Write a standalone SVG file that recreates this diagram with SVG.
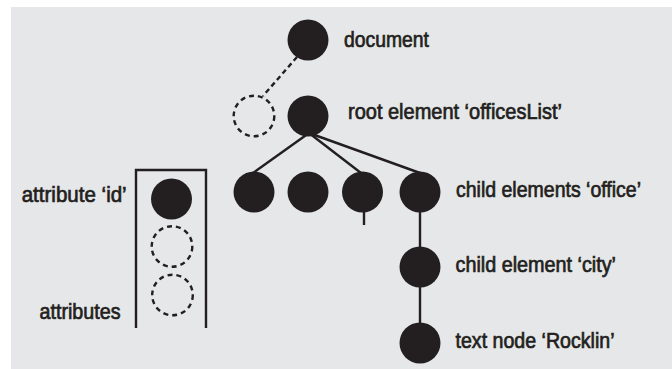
<svg xmlns="http://www.w3.org/2000/svg" width="672" height="369" viewBox="0 0 672 369">
<style>
.bg{fill:#e6e7e8}
.n{fill:#231f20}
.d{fill:none;stroke:#231f20;stroke-width:2.4;stroke-dasharray:5 4}
.e{stroke:#231f20;stroke-width:2.4;fill:none}
.ed{stroke:#231f20;stroke-width:2.4;stroke-dasharray:5 3.5;fill:none}
.t{font-family:"Liberation Sans",Arial,sans-serif;font-size:22px;fill:#231f20;stroke:#231f20;stroke-width:0.7}
</style>
<rect class="bg" x="11" y="7" width="661" height="362"/>
<g id="connectors">
<line class="ed" x1="297" y1="57" x2="263" y2="96"/>
<line class="e" x1="309" y1="133" x2="253" y2="173"/>
<line class="e" x1="309" y1="133" x2="361" y2="173"/>
<line class="e" x1="309" y1="133" x2="420" y2="173"/>
<line class="e" x1="364" y1="210" x2="364" y2="225"/>
<line class="e" x1="420" y1="192" x2="420" y2="343"/>
</g>
<g id="document">
<circle class="n" cx="308" cy="40" r="20.5"/>
<text class="t" x="344" y="47" textLength="85" lengthAdjust="spacingAndGlyphs">document</text>
</g>
<g id="dashed-node">
<circle class="d" cx="254" cy="116" r="20.3"/>
</g>
<g id="root">
<circle class="n" cx="308" cy="116" r="20.5"/>
<text class="t" x="348" y="119" textLength="214" lengthAdjust="spacingAndGlyphs">root element ‘officesList’</text>
</g>
<g id="child1"><circle class="n" cx="254" cy="192" r="20.5"/></g>
<g id="child2"><circle class="n" cx="308" cy="192" r="20.5"/></g>
<g id="child3"><circle class="n" cx="362.5" cy="192" r="20.5"/></g>
<g id="child4">
<circle class="n" cx="420" cy="192" r="20.5"/>
<text class="t" x="456" y="197" textLength="185" lengthAdjust="spacingAndGlyphs">child elements ‘office’</text>
</g>
<g id="city">
<circle class="n" cx="420" cy="267" r="20.5"/>
<text class="t" x="455.5" y="272" textLength="160.5" lengthAdjust="spacingAndGlyphs">child element ‘city’</text>
</g>
<g id="textnode">
<circle class="n" cx="420" cy="343" r="20.5"/>
<text class="t" x="455.5" y="347.5" textLength="159" lengthAdjust="spacingAndGlyphs">text node ‘Rocklin’</text>
</g>
<g id="attributes">
<path class="e" d="M136,328 V170 H206 V328"/>
<circle class="n" cx="171.5" cy="199" r="20.5"/>
<circle class="d" cx="172" cy="246.5" r="20.3"/>
<circle class="d" cx="172.5" cy="295" r="20.3"/>
<text class="t" x="21.7" y="202" textLength="105" lengthAdjust="spacingAndGlyphs">attribute ‘id’</text>
<text class="t" x="39.5" y="318.5" textLength="81" lengthAdjust="spacingAndGlyphs">attributes</text>
</g>
</svg>
